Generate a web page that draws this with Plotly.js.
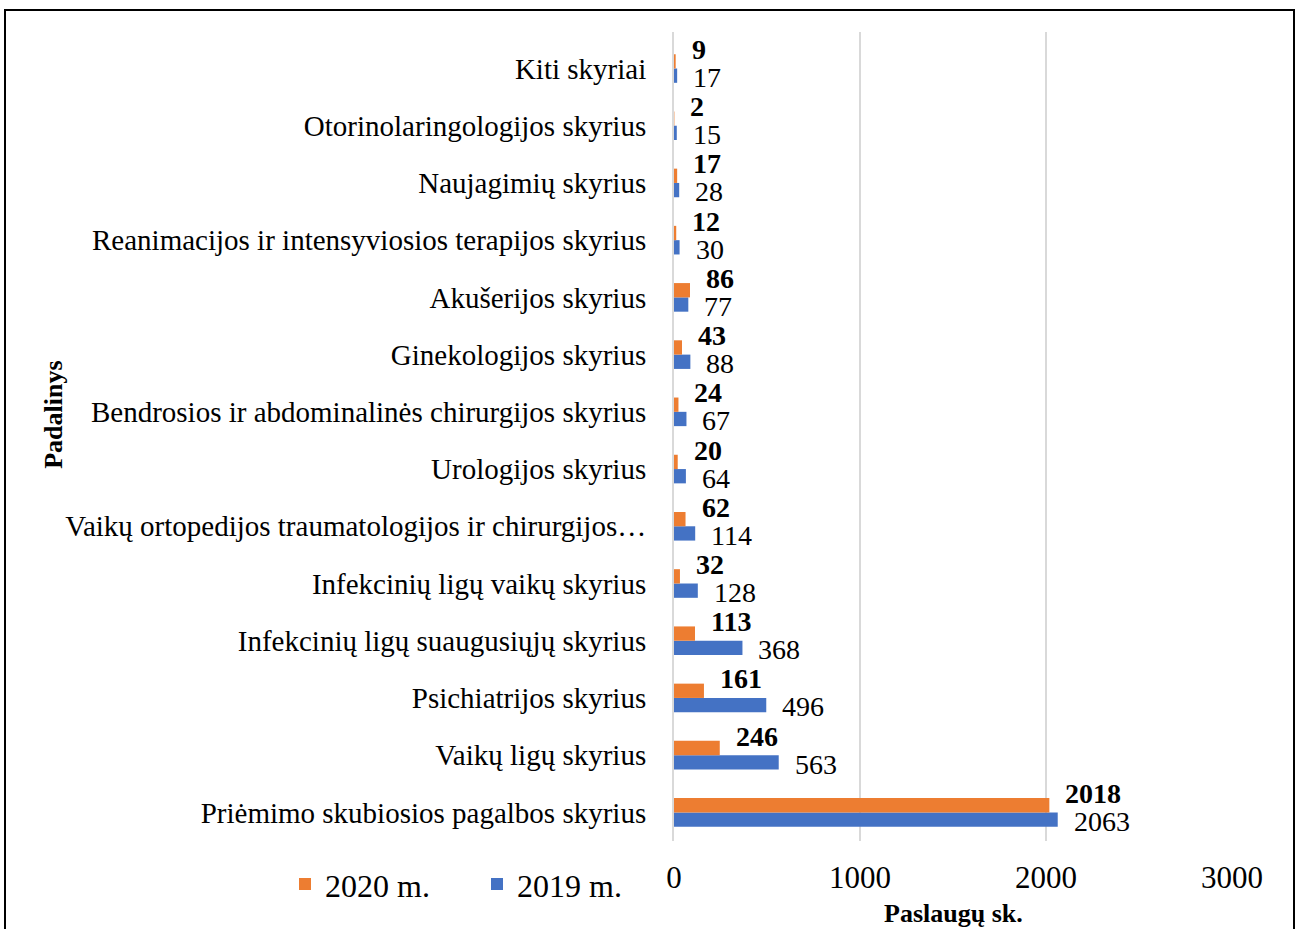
<!DOCTYPE html>
<html>
<head>
<meta charset="utf-8">
<script src="https://cdn.plot.ly/plotly-3.0.1.min.js"></script>
<style>
  html, body { margin: 0; padding: 0; background: #fff; }
  #chart { position: absolute; left: 0; top: 0; width: 1299px; height: 929px; }
  #frame { position: absolute; left: 4px; top: 9px; width: 1287px; height: 940px; border: 2px solid #000; pointer-events: none; }
</style>
</head>
<body>
<div id="chart"></div>
<div id="frame"></div>
<script>
// Categories from bottom to top
const categories = [
  "Priėmimo skubiosios pagalbos skyrius",
  "Vaikų ligų skyrius",
  "Psichiatrijos skyrius",
  "Infekcinių ligų suaugusiųjų skyrius",
  "Infekcinių ligų vaikų skyrius",
  "Vaikų ortopedijos traumatologijos ir chirurgijos…",
  "Urologijos skyrius",
  "Bendrosios ir abdominalinės chirurgijos skyrius",
  "Ginekologijos skyrius",
  "Akušerijos skyrius",
  "Reanimacijos ir intensyviosios terapijos skyrius",
  "Naujagimių skyrius",
  "Otorinolaringologijos skyrius",
  "Kiti skyriai"
];
const values2019 = [2063, 563, 496, 368, 128, 114, 64, 67, 88, 77, 30, 28, 15, 17];
const values2020 = [2018, 246, 161, 113, 32, 62, 20, 24, 43, 86, 12, 17, 2, 9];
const seriesNames = ["2019 m.", "2020 m."];
const tickValues = [0, 1000, 2000, 3000];

const FONT = "Liberation Serif";
const BLUE = "#4472C4", ORANGE = "#ED7D31";

const traces = [
  { type: "bar", orientation: "h", name: seriesNames[0], y: categories, x: values2019,
    marker: { color: BLUE }, hoverinfo: "x+name" },
  { type: "bar", orientation: "h", name: seriesNames[1], y: categories, x: values2020,
    marker: { color: ORANGE }, hoverinfo: "x+name" }
];

const annotations = [];
categories.forEach((c, i) => {
  annotations.push({ x: values2020[i], y: c, xref: "x", yref: "y", text: "<b>" + values2020[i] + "</b>",
    showarrow: false, xanchor: "left", yanchor: "middle", xshift: 14, yshift: 19,
    font: { family: FONT, size: 28, color: "#000" } });
  annotations.push({ x: values2019[i], y: c, xref: "x", yref: "y", text: String(values2019[i]),
    showarrow: false, xanchor: "left", yanchor: "middle", xshift: 14, yshift: -9,
    font: { family: FONT, size: 28, color: "#000" } });
});
annotations.push({ text: "<b>Padalinys</b>", xref: "paper", yref: "paper", x: (54 - 674) / 558, y: (841 - 418) / 803,
  showarrow: false, textangle: -90, xanchor: "center", yanchor: "middle",
  font: { family: FONT, size: 26, color: "#000" } });
annotations.push({ text: "<b>Paslaugų sk.</b>", xref: "paper", yref: "paper", x: 0.5, y: (841 - 913) / 803,
  showarrow: false, xanchor: "center", yanchor: "middle",
  font: { family: FONT, size: 26, color: "#000" } });

const layout = {
  width: 1299, height: 929,
  margin: { l: 674, r: 67, t: 32, b: 88 },
  paper_bgcolor: "#fff", plot_bgcolor: "#fff",
  font: { family: FONT, color: "#000", size: 28 },
  barmode: "group", bargap: 0.5, bargroupgap: 0,
  xaxis: {
    range: [0, 3000], tickvals: tickValues, ticktext: tickValues.map(String),
    showgrid: true, gridcolor: "#D9D9D9", gridwidth: 2, zeroline: false,
    showline: false, ticks: "", ticklabelstandoff: 15,
    tickfont: { family: FONT, size: 31, color: "#000" },
    automargin: false
  },
  yaxis: {
    type: "category", showgrid: false, zeroline: false,
    showline: true, linecolor: "#D9D9D9", linewidth: 2,
    ticks: "", ticklabelstandoff: 20, tickfont: { family: FONT, size: 29, color: "#000" },
    automargin: false
  },
  legend: {
    orientation: "h", traceorder: "reversed", x: (285 - 674) / 558, xanchor: "left",
    y: (841 - 884) / 803, yanchor: "middle",
    font: { family: FONT, size: 32, color: "#000" },
    entrywidth: 147, entrywidthmode: "pixels", itemwidth: 30, bgcolor: "rgba(0,0,0,0)"
  },
  annotations: annotations
};

Plotly.newPlot("chart", traces, layout, { displayModeBar: false, staticPlot: true });
</script>
</body>
</html>
